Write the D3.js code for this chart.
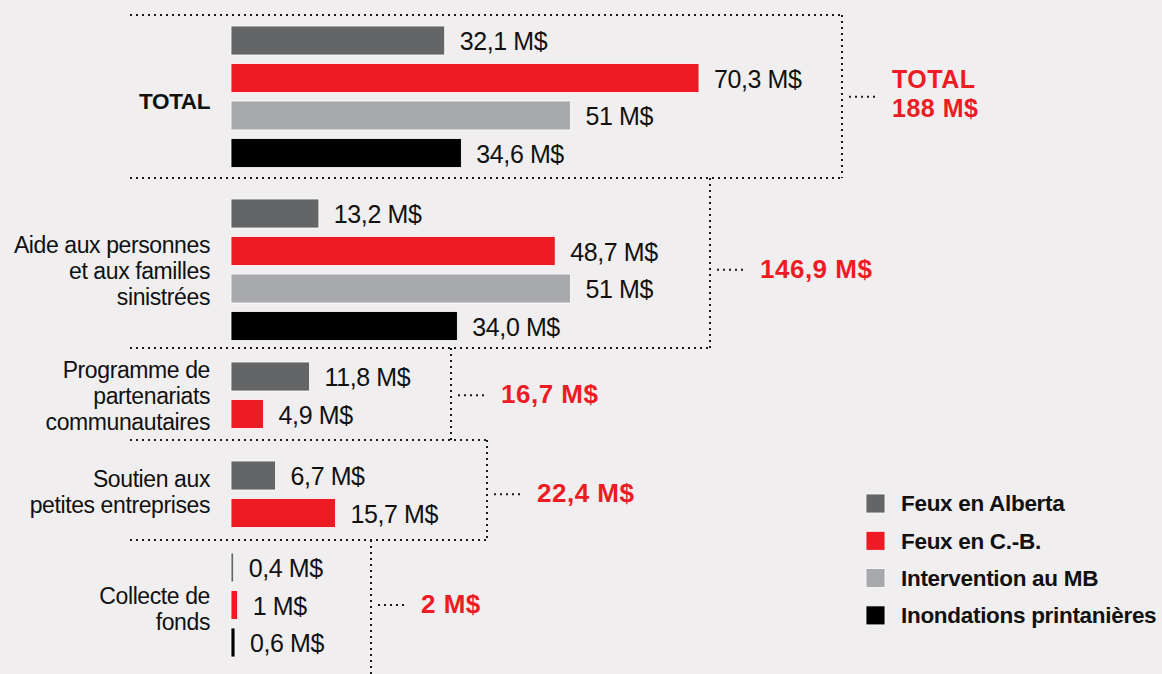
<!DOCTYPE html>
<html>
<head>
<meta charset="utf-8">
<script src="https://cdn.jsdelivr.net/npm/d3@7"></script>
<style>
  body { margin: 0; background: #f0eeef; }
  svg text { font-family: "Liberation Sans", Arial, sans-serif; }
</style>
</head>
<body>
<svg id="chart"></svg>
<script>
// series
const series = ['Feux en Alberta', 'Feux en C.-B.', 'Intervention au MB', 'Inondations printanières'];
const seriesColors = ['#646567', '#ed1c24', '#a8a9ac', '#000000'];

// categories (lines of each label)
const categories = [
  ['TOTAL'],
  ['Aide aux personnes', 'et aux familles', 'sinistrées'],
  ['Programme de', 'partenariats', 'communautaires'],
  ['Soutien aux', 'petites entreprises'],
  ['Collecte de', 'fonds']
];

// values in M$ per category (null = no bar)
const alberta = [32.1, 13.2, 11.8, 6.7, 0.4];
const cb = [70.3, 48.7, 4.9, 15.7, 1];
const mb = [51, 51, null, null, null];
const inondations = [34.6, 34.0, null, null, 0.6];

const albertaLabels = ['32,1 M$', '13,2 M$', '11,8 M$', '6,7 M$', '0,4 M$'];
const cbLabels = ['70,3 M$', '48,7 M$', '4,9 M$', '15,7 M$', '1 M$'];
const mbLabels = ['51 M$', '51 M$', null, null, null];
const inondationsLabels = ['34,6 M$', '34,0 M$', null, null, '0,6 M$'];

// totals per category
const totals = [188, 146.9, 16.7, 22.4, 2];
const totalLabels = [['TOTAL', '188 M$'], ['146,9 M$'], ['16,7 M$'], ['22,4 M$'], ['2 M$']];

// layout
const W = 1162, H = 674;
const groupTop = [15, 178, 348, 440, 540, 690];   // dotted separators
const firstBarY = [26, 199, 362, 461, 553];
const boxRight = [842, 710, 451, 487, 371];
const labelShift = [4, 1, 1, -2, 4];
const barStep = 37.5, barH = 29;
const boxLeft = 130, labelX = 210;

const svg = d3.select('#chart').attr('width', W).attr('height', H);
svg.append('rect').attr('width', W).attr('height', H).attr('fill', '#f0eeef');

const x = d3.scaleLinear().domain([0, 70.3]).range([231, 699]);

const allValues = [alberta, cb, mb, inondations];
const allLabels = [albertaLabels, cbLabels, mbLabels, inondationsLabels];

// build rows
const rows = [];
categories.forEach((c, gi) => {
  let k = 0;
  allValues.forEach((vals, si) => {
    if (vals[gi] == null) return;
    rows.push({ group: gi, series: si, value: vals[gi], label: allLabels[si][gi], y: firstBarY[gi] + k * barStep });
    k++;
  });
});

const groupCenter = categories.map((c, gi) => {
  const r = rows.filter(d => d.group === gi);
  return (r[0].y + r[r.length - 1].y + barH) / 2;
});

// dotted boxes
const dotted = sel => sel.attr('stroke', '#1a1a1a').attr('stroke-width', 2)
  .attr('stroke-dasharray', '2,4').attr('fill', 'none');

const boxes = svg.append('g');
categories.forEach((c, gi) => {
  const top = groupTop[gi], bottom = groupTop[gi + 1], right = boxRight[gi];
  boxes.append('line').attr('x1', boxLeft).attr('x2', right).attr('y1', top).attr('y2', top).call(dotted);
  boxes.append('line').attr('x1', right).attr('x2', right).attr('y1', top).attr('y2', bottom).call(dotted);
  boxes.append('line').attr('x1', boxLeft).attr('x2', right).attr('y1', bottom).attr('y2', bottom).call(dotted);
  // connector
  boxes.append('line').attr('x1', right + 7).attr('x2', right + 35)
    .attr('y1', groupCenter[gi]).attr('y2', groupCenter[gi]).call(dotted);
});

// bars
svg.append('g').selectAll('rect').data(rows).join('rect')
  .attr('x', x(0))
  .attr('y', d => d.y)
  .attr('width', d => x(d.value) - x(0))
  .attr('height', barH)
  .attr('fill', d => seriesColors[d.series])
  .attr('stroke', '#ffffff')
  .attr('stroke-width', 0.8);

// value labels
svg.append('g').selectAll('text').data(rows).join('text')
  .attr('x', d => x(d.value) + 15)
  .attr('y', d => d.y + barH / 2 + 1)
  .attr('dy', '0.35em')
  .attr('font-size', 25)
  .attr('letter-spacing', -0.4)
  .attr('fill', '#111')
  .text(d => d.label);

// category labels
const lineH = 26;
categories.forEach((lines, gi) => {
  const t = svg.append('text')
    .attr('x', labelX)
    .attr('text-anchor', 'end')
    .attr('font-size', gi === 0 ? 22.5 : 23)
    .attr('font-weight', gi === 0 ? 'bold' : 'normal')
    .attr('letter-spacing', -0.4)
    .attr('fill', '#111');
  const y0 = groupCenter[gi] + labelShift[gi] - (lines.length - 1) * lineH / 2;
  lines.forEach((l, i) => {
    t.append('tspan').attr('x', labelX).attr('y', y0 + i * lineH).attr('dy', '0.35em').text(l);
  });
});

// totals
const totalLineH = 29;
totalLabels.forEach((lines, gi) => {
  const y0 = groupCenter[gi] - (lines.length > 1 ? 3.5 : 1) - (lines.length - 1) * totalLineH / 2;
  lines.forEach((l, i) => {
    svg.append('text')
      .attr('x', boxRight[gi] + 50)
      .attr('y', y0 + i * totalLineH)
      .attr('dy', '0.35em')
      .attr('font-size', lines.length > 1 ? 25 : 26)
      .attr('font-weight', 'bold')
      .attr('letter-spacing', 0.5)
      .attr('fill', '#ed1c24')
      .text(l);
  });
});

// legend
const legend = svg.append('g').attr('transform', 'translate(866,494)');
const li = legend.selectAll('g').data(series).join('g')
  .attr('transform', (d, i) => `translate(0,${i * 37.3})`);
li.append('rect').attr('width', 19).attr('height', 19)
  .attr('fill', (d, i) => seriesColors[i]).attr('stroke', '#fff').attr('stroke-width', 0.8);
li.append('text').attr('x', 35).attr('y', 9.5).attr('dy', '0.35em')
  .attr('font-size', 22.5).attr('font-weight', 'bold').attr('letter-spacing', -0.3)
  .attr('fill', '#111')
  .text(d => d);
</script>
</body>
</html>
